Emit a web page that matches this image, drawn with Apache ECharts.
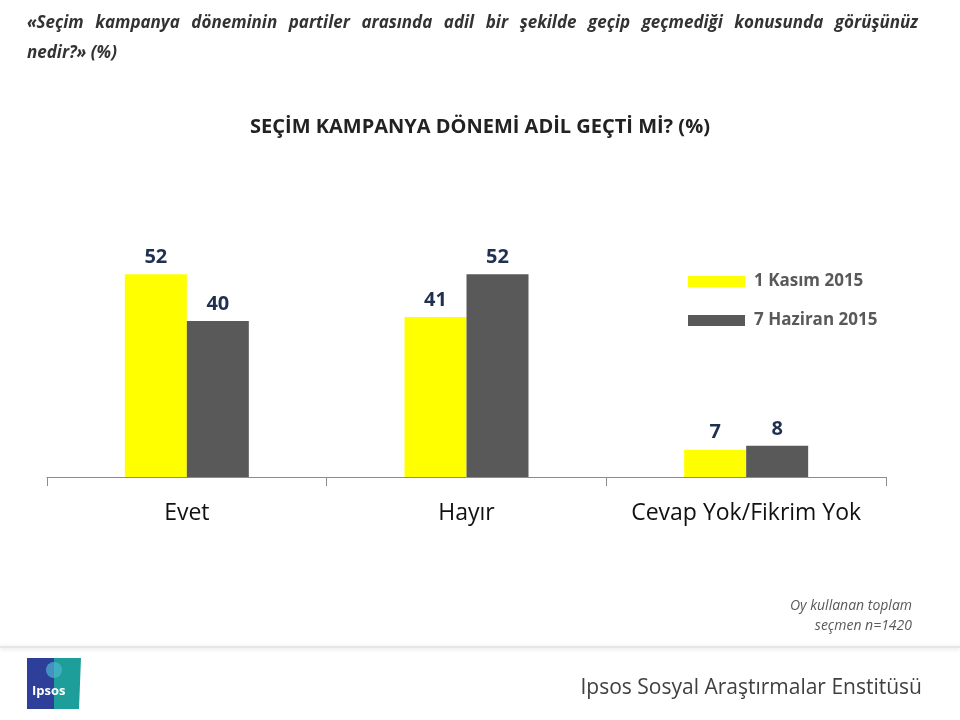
<!DOCTYPE html>
<html>
<head>
<meta charset="utf-8">
<script src="https://cdn.jsdelivr.net/npm/echarts@6/dist/echarts.min.js"></script>
<style>
  html, body { margin: 0; padding: 0; background: #fff; }
  #chart { width: 960px; height: 720px; }
</style>
</head>
<body>
<div id="chart"></div>
<script>
// data
const categories = ['Evet', 'Hayır', 'Cevap Yok/Fikrim Yok'];
const kasim2015 = [52, 41, 7];
const haziran2015 = [40, 52, 8];
const seriesNames = ['1 Kasım 2015', '7 Haziran 2015'];

const question1 = '«Seçim kampanya döneminin partiler arasında adil bir şekilde geçip geçmediği konusunda görüşünüz';
const question2 = 'nedir?» (%)';

const chart = echarts.init(document.getElementById('chart'));

// justify the first question line across the page like the slide does
const headFont = 'italic bold 17px "Open Sans"';
const ctx = document.createElement('canvas').getContext('2d');
ctx.font = headFont;
const words = question1.split(' ');
const widths = words.map(w => ctx.measureText(w).width);
const lineLeft = 27, lineRight = 918;
const gap = (lineRight - lineLeft - widths.reduce((a, b) => a + b, 0)) / (words.length - 1);
const headGraphics = [];
let x = lineLeft;
words.forEach((w, i) => {
  headGraphics.push({ type: 'text', x: x, y: 15, style: { text: w, fill: '#333', font: headFont } });
  x += widths[i] + gap;
});
headGraphics.push({ type: 'text', x: lineLeft, y: 45, style: { text: question2, fill: '#333', font: headFont } });

const barLabel = {
  show: true,
  position: 'top',
  distance: 7,
  color: '#1F3050',
  fontSize: 20,
  fontWeight: 'bold',
  fontFamily: 'Open Sans'
};

const option = {
  animation: false,
  backgroundColor: '#fff',
  grid: { left: 47, right: 74, top: 243, height: 234 },
  legend: {
    orient: 'vertical',
    left: 688,
    top: 273,
    padding: 0,
    itemWidth: 57,
    itemHeight: 11,
    itemGap: 22,
    icon: 'rect',
    textStyle: { color: '#595959', fontSize: 17, fontWeight: 'bold', fontFamily: 'Open Sans', padding: [0, 0, 0, 4] },
    data: seriesNames
  },
  xAxis: {
    type: 'category',
    data: categories,
    axisLine: { lineStyle: { color: '#8c8c8c', width: 1 } },
    axisTick: { show: true, length: 9, lineStyle: { color: '#8c8c8c' } },
    axisLabel: { color: '#111', fontSize: 23, fontFamily: 'Open Sans', margin: 25, interval: 0 }
  },
  yAxis: {
    type: 'value',
    min: 0,
    max: 60,
    show: false,
    splitLine: { show: false }
  },
  series: [
    {
      name: seriesNames[0],
      type: 'bar',
      data: kasim2015,
      barWidth: 62,
      barGap: '0%',
      itemStyle: { color: '#FFFF00' },
      label: barLabel
    },
    {
      name: seriesNames[1],
      type: 'bar',
      data: haziran2015,
      barWidth: 62,
      barGap: '0%',
      itemStyle: { color: '#595959' },
      label: barLabel
    }
  ],
  graphic: headGraphics.concat([
    {
      type: 'text', left: 'center', top: 117,
      style: { text: 'SEÇİM KAMPANYA DÖNEMİ ADİL GEÇTİ Mİ? (%)', fill: '#222', font: 'bold 20px "Open Sans"' }
    },
    {
      type: 'text', right: 48, top: 599,
      style: { text: 'Oy kullanan toplam', fill: '#595959', font: 'italic 14px "Open Sans"' }
    },
    {
      type: 'text', right: 48, top: 619,
      style: { text: 'seçmen n=1420', fill: '#595959', font: 'italic 14px "Open Sans"' }
    },
    {
      type: 'rect', shape: { x: 0, y: 646, width: 960, height: 2 },
      style: { fill: '#e6e6e6', shadowBlur: 4, shadowColor: 'rgba(0,0,0,0.15)', shadowOffsetY: 1 }
    },
    {
      type: 'rect', shape: { x: 27, y: 658, width: 27, height: 51 },
      style: { fill: '#2E3F9A' }
    },
    {
      type: 'polygon', shape: { points: [[54, 658], [81, 658], [79, 709], [54, 709]] },
      style: { fill: '#1E9E9A' }
    },
    {
      type: 'circle', shape: { cx: 54, cy: 670, r: 8 },
      style: { fill: '#4DB6D0', opacity: 0.7 }
    },
    {
      type: 'text', left: 32, top: 685,
      style: { text: 'Ipsos', fill: '#fff', font: 'bold 13px "Open Sans"' }
    },
    {
      type: 'text', right: 38, top: 678,
      style: { text: 'Ipsos Sosyal Araştırmalar Enstitüsü', fill: '#404040', font: '21px "Open Sans"' }
    }
  ])
};

chart.setOption(option);
</script>
</body>
</html>
